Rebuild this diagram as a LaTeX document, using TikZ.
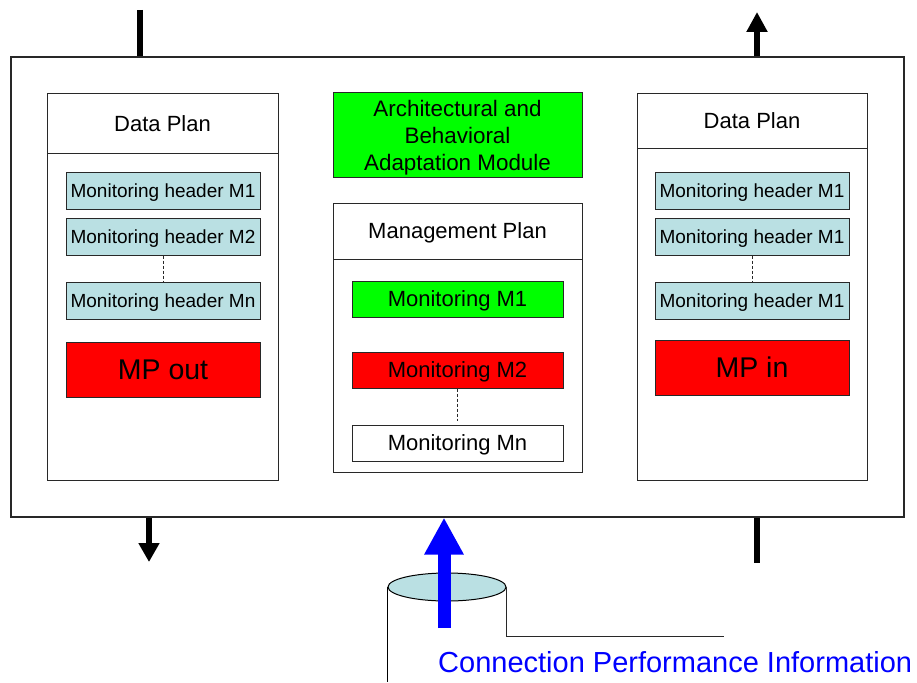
\documentclass[tikz,border=0pt]{standalone}
\usepackage{fontspec}
\setmainfont{Liberation Sans}
\usetikzlibrary{arrows.meta,shapes.geometric}
\definecolor{hdrfill}{RGB}{186,224,227}
\definecolor{brightgreen}{RGB}{0,255,0}
\definecolor{brightred}{RGB}{255,0,0}
\definecolor{pureblue}{RGB}{0,0,255}
\definecolor{edgegray}{RGB}{40,40,40}
\tikzset{
  box/.style={draw=edgegray, rectangle, inner sep=0pt, line width=1pt},
  hdrbox/.style={box, fill=hdrfill, minimum width=194, minimum height=37, font=\fontsize{19}{22}\selectfont, text height=13.7pt, text depth=0pt},
  monbox/.style={box, minimum width=211, minimum height=36, font=\fontsize{22}{25}\selectfont, text height=15.8pt, text depth=0pt},
  mpbox/.style={box, fill=brightred, minimum width=194, minimum height=55, font=\fontsize{28.5}{32}\selectfont, text height=20.4pt, text depth=0pt},
  titletxt/.style={font=\fontsize{22}{25}\selectfont, text height=15.8pt, text depth=0pt},
  dotsline/.style={draw=edgegray, line width=0.8pt, dash pattern=on 3pt off 2pt},
  thickline/.style={line width=6.5pt, black},
}
\begin{document}
\begin{tikzpicture}[x=1pt,y=-1pt]
\useasboundingbox (0,0) rectangle (917,682);
\fill[white] (0,0) rectangle (917,682);

% outer box
\node[box, line width=1.2pt, minimum width=893, minimum height=460] (outer) at (457.5,287) {};

% ---------- left data plan ----------
\node[box, minimum width=231, minimum height=386] (dpL) at (162.5,287) {};
\node[box, minimum width=231, minimum height=59, titletxt] (dpLh) at (162.5,123.5) {Data Plan};
\node[hdrbox] (hL1) at (163,190.5) {Monitoring header M1};
\node[hdrbox] (hL2) at (163,236.5) {Monitoring header M2};
\node[hdrbox] (hLn) at (163,300.5) {Monitoring header Mn};
\node[mpbox] (mpout) at (163,369.5) {MP out};
\draw[dotsline] (hL2.south) -- (hLn.north);

% ---------- right data plan ----------
\node[box, minimum width=230, minimum height=386] (dpR) at (752,287) {};
\node[box, minimum width=230, minimum height=54, titletxt] (dpRh) at (752,121) {Data Plan};
\node[hdrbox] (hR1) at (752,190.5) {Monitoring header M1};
\node[hdrbox] (hR2) at (752,236.5) {Monitoring header M1};
\node[hdrbox] (hRn) at (752,300.5) {Monitoring header M1};
\node[mpbox] (mpin) at (752,367.5) {MP in};
\draw[dotsline] (hR2.south) -- (hRn.north);

% ---------- middle ----------
\node[box, fill=brightgreen, minimum width=249, minimum height=84, align=center, font=\fontsize{22.4}{27}\selectfont, text depth=0pt] (abam) at (457.5,135)
  {Architectural and\\Behavioral\\Adaptation Module};
\node[box, minimum width=249, minimum height=269] (mgmt) at (457.5,337.5) {};
\node[box, minimum width=249, minimum height=56, titletxt] (mgmth) at (457.5,231) {Management Plan};
\node[monbox, fill=brightgreen] (m1) at (457.5,299) {Monitoring M1};
\node[monbox, fill=brightred] (m2) at (457.5,370) {Monitoring M2};
\node[monbox, fill=white] (mn) at (457.5,443) {Monitoring Mn};
\draw[dotsline] (m2.south) -- ++(0,32) coordinate (m2d);

% ---------- external lines / arrows ----------
\coordinate (tlTop) at (140,10);
\draw[thickline] (tlTop) -- (tlTop |- outer.north);

\coordinate (trTip) at (757,12);
\draw[line width=6pt, -{Triangle[width=20pt,length=20pt]}] (trTip |- outer.north) -- (trTip);

\coordinate (blTip) at (149,562);
\draw[line width=6pt, -{Triangle[width=20pt,length=19pt]}] (blTip |- outer.south) -- (blTip);

\coordinate (brEnd) at (757,563);
\draw[thickline] (brEnd |- outer.south) -- (brEnd);

% ---------- cylinder and connection info ----------
\node[ellipse, draw=black, line width=1pt, fill=hdrfill, minimum width=118, minimum height=28, inner sep=0pt] (cyl) at (447,587) {};
\coordinate (cylBot) at (388,682);
\coordinate (leaderEnd) at (724,636);
\draw[black, line width=1pt] (cyl.west) -- (cyl.west |- cylBot);
\draw[edgegray, line width=1pt] (cyl.east) -- (cyl.east |- leaderEnd) -- (leaderEnd);

\coordinate (blueBase) at (444,628);
\draw[pureblue, line width=13pt, -{Triangle[width=37pt,length=37pt]}] (blueBase) -- (blueBase |- outer.south);

\node[anchor=base west, inner sep=0pt, text=pureblue, font=\fontsize{29}{32}\selectfont] (cpi) at (438,672) {Connection Performance Information};
\end{tikzpicture}
\end{document}
